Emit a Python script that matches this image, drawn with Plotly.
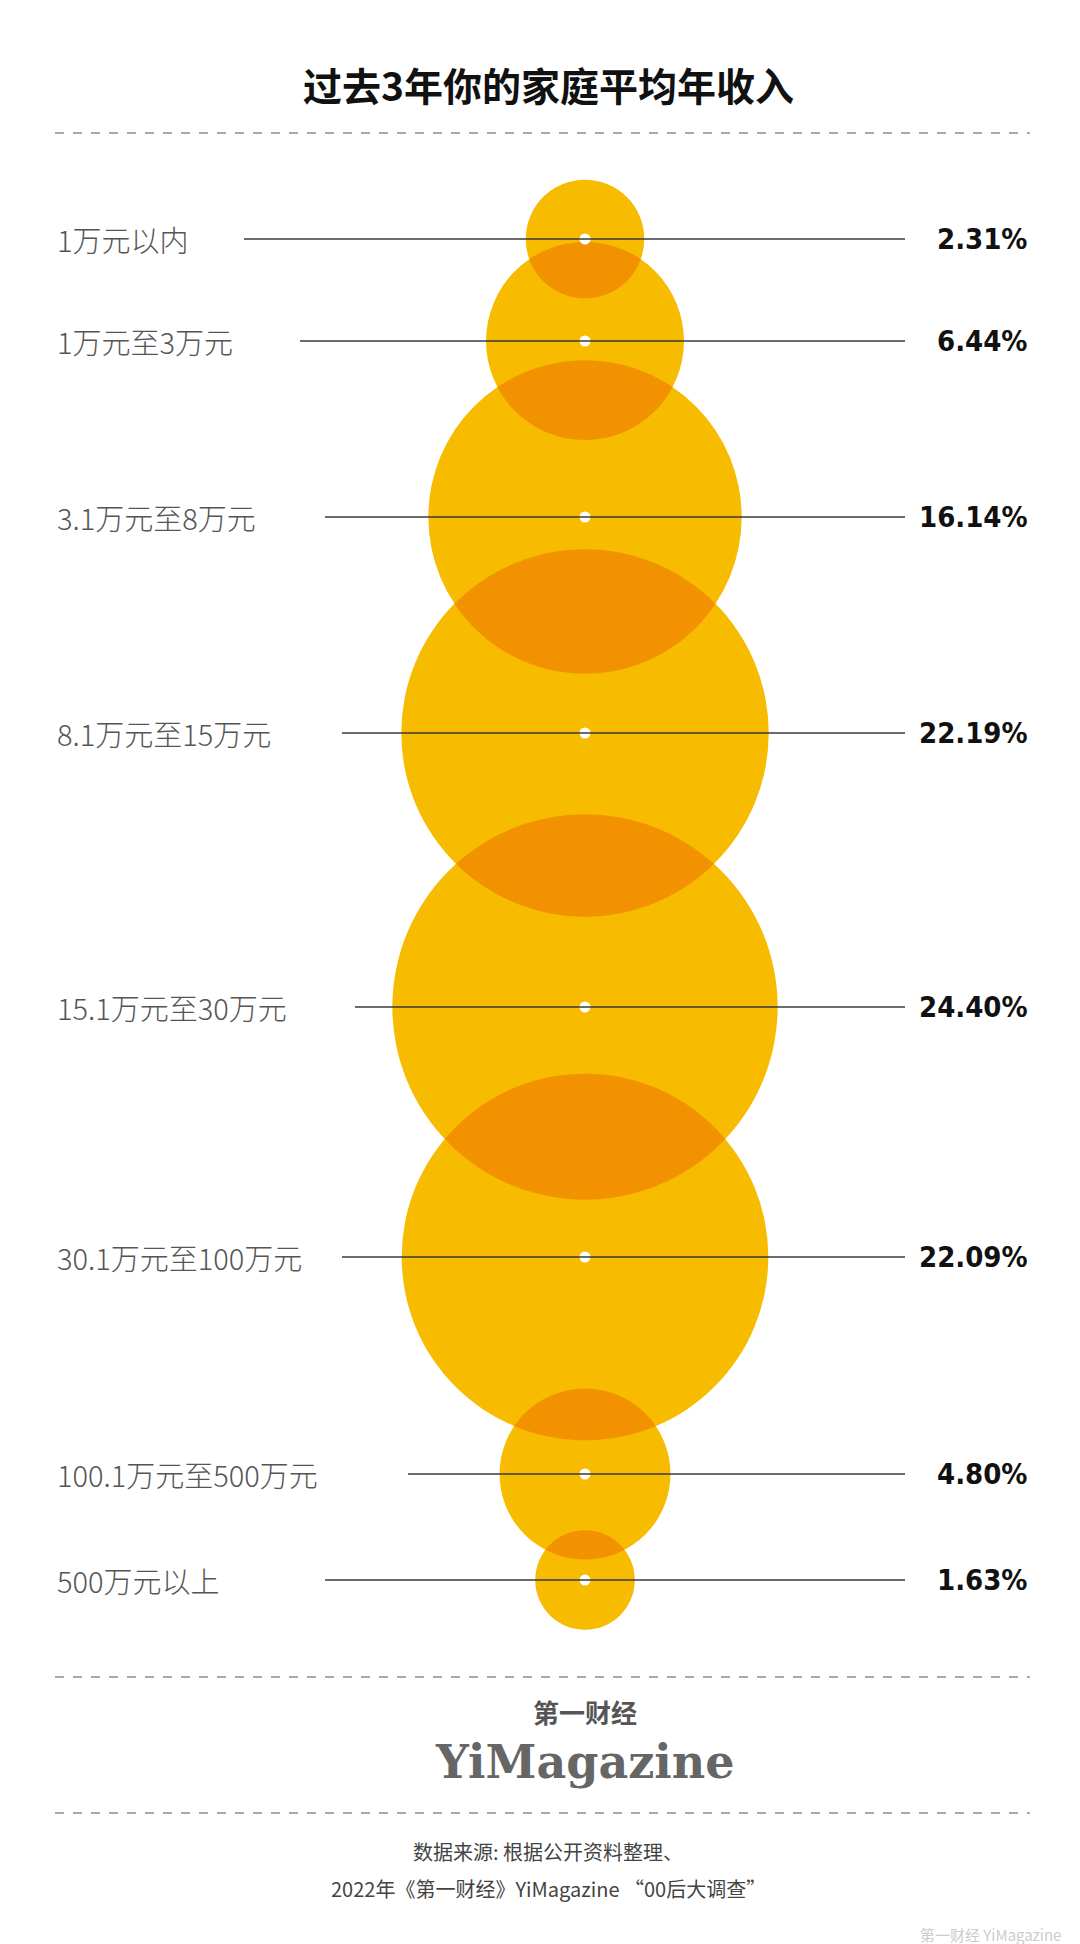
import numpy as np
import plotly.graph_objects as go

categories = ['1万元以内', '1万元至3万元', '3.1万元至8万元', '8.1万元至15万元',
              '15.1万元至30万元', '30.1万元至100万元', '100.1万元至500万元', '500万元以上']
values = [2.31, 6.44, 16.14, 22.19, 24.40, 22.09, 4.80, 1.63]
labels = ['2.31%', '6.44%', '16.14%', '22.19%', '24.40%', '22.09%', '4.80%', '1.63%']

# layout in pixel units (axes map 1:1 onto the page)
W, H = 1080, 1944
cx = 577
row_y = [231, 333, 509, 725, 999, 1249, 1466, 1572]
line_start = [236, 292, 317, 334, 347, 334, 400, 317]
k = 39.0  # radius = k * sqrt(value)
yellow = '#F7BB00'
orange = '#F39200'
radii = [k * np.sqrt(v) for v in values]

shapes = []
for y, r in zip(row_y, radii):
    shapes.append(dict(type='circle', xref='x', yref='y', x0=cx - r, x1=cx + r,
                       y0=y - r, y1=y + r, fillcolor=yellow, line=dict(width=0), layer='below'))

# overlap lenses between neighbouring circles
for i in range(len(row_y) - 1):
    y1, y2, r1, r2 = row_y[i], row_y[i + 1], radii[i], radii[i + 1]
    d = y2 - y1
    if d >= r1 + r2:
        continue
    a = (d * d + r1 * r1 - r2 * r2) / (2 * d)
    a1 = np.arccos(np.clip(a / r1, -1, 1))
    a2 = np.arccos(np.clip((d - a) / r2, -1, 1))
    pts = []
    for t in np.linspace(-a1, a1, 60):
        pts.append((cx + r1 * np.sin(t), y1 + r1 * np.cos(t)))
    for t in np.linspace(a2, -a2, 60):
        pts.append((cx + r2 * np.sin(t), y2 - r2 * np.cos(t)))
    path = 'M ' + ' L '.join(f'{px:.2f},{py:.2f}' for px, py in pts) + ' Z'
    shapes.append(dict(type='path', xref='x', yref='y', path=path,
                       fillcolor=orange, line=dict(width=0), layer='below'))

# guide lines
for y, x0 in zip(row_y, line_start):
    shapes.append(dict(type='line', xref='x', yref='y', x0=x0, x1=897, y0=y, y1=y,
                       line=dict(color='#3a3a3a', width=1.3)))

# dashed separators
for y in [125, 1669, 1805]:
    shapes.append(dict(type='line', xref='x', yref='y', x0=47, x1=1022, y0=y, y1=y,
                       line=dict(color='#555555', width=1.2, dash='dash')))

fig = go.Figure()
fig.add_trace(go.Scatter(x=[cx] * len(row_y), y=row_y, mode='markers',
                         marker=dict(color='white', size=11, line=dict(width=0)),
                         hoverinfo='skip'))

ann = []
ann.append(dict(x=540, y=76, text='<b>过去3年你的家庭平均年收入</b>', showarrow=False,
                font=dict(size=39, color='#111111', family='Noto Sans CJK SC')))
for y, c, l in zip(row_y, categories, labels):
    ann.append(dict(x=47, y=y, text=c, xanchor='left', showarrow=False,
                    font=dict(size=29, color='#555555', family='Noto Sans CJK SC Light, Noto Sans CJK SC')))
    ann.append(dict(x=1022, y=y, text='<b>' + l + '</b>', xanchor='right', showarrow=False,
                    font=dict(size=29, color='#111111', family='DejaVu Sans Condensed, DejaVu Sans')))
ann.append(dict(x=577, y=1703, text='<b>第一财经</b>', showarrow=False,
                font=dict(size=26, color='#555555', family='Noto Sans CJK SC')))
ann.append(dict(x=577, y=1754, text='<b>YiMagazine</b>', showarrow=False,
                font=dict(size=46, color='#666666', family='DejaVu Serif')))
ann.append(dict(x=540, y=1843, text='数据来源: 根据公开资料整理、', showarrow=False,
                font=dict(size=20, color='#444444', family='Noto Sans CJK SC')))
ann.append(dict(x=540, y=1880, text='2022年《第一财经》YiMagazine “00后大调查”', showarrow=False,
                font=dict(size=20, color='#444444', family='Noto Sans CJK SC')))
ann.append(dict(x=1055, y=1926, text='第一财经 YiMagazine', xanchor='right', showarrow=False,
                font=dict(size=15, color='#cccccc', family='Noto Sans CJK SC')))

fig.update_layout(width=W, height=H, margin=dict(l=0, r=0, t=0, b=0),
                  paper_bgcolor='white', plot_bgcolor='white', showlegend=False,
                  shapes=shapes, annotations=ann,
                  xaxis=dict(range=[0, W], visible=False, fixedrange=True),
                  yaxis=dict(range=[H, 0], visible=False, fixedrange=True))
fig.write_html('out.html')
